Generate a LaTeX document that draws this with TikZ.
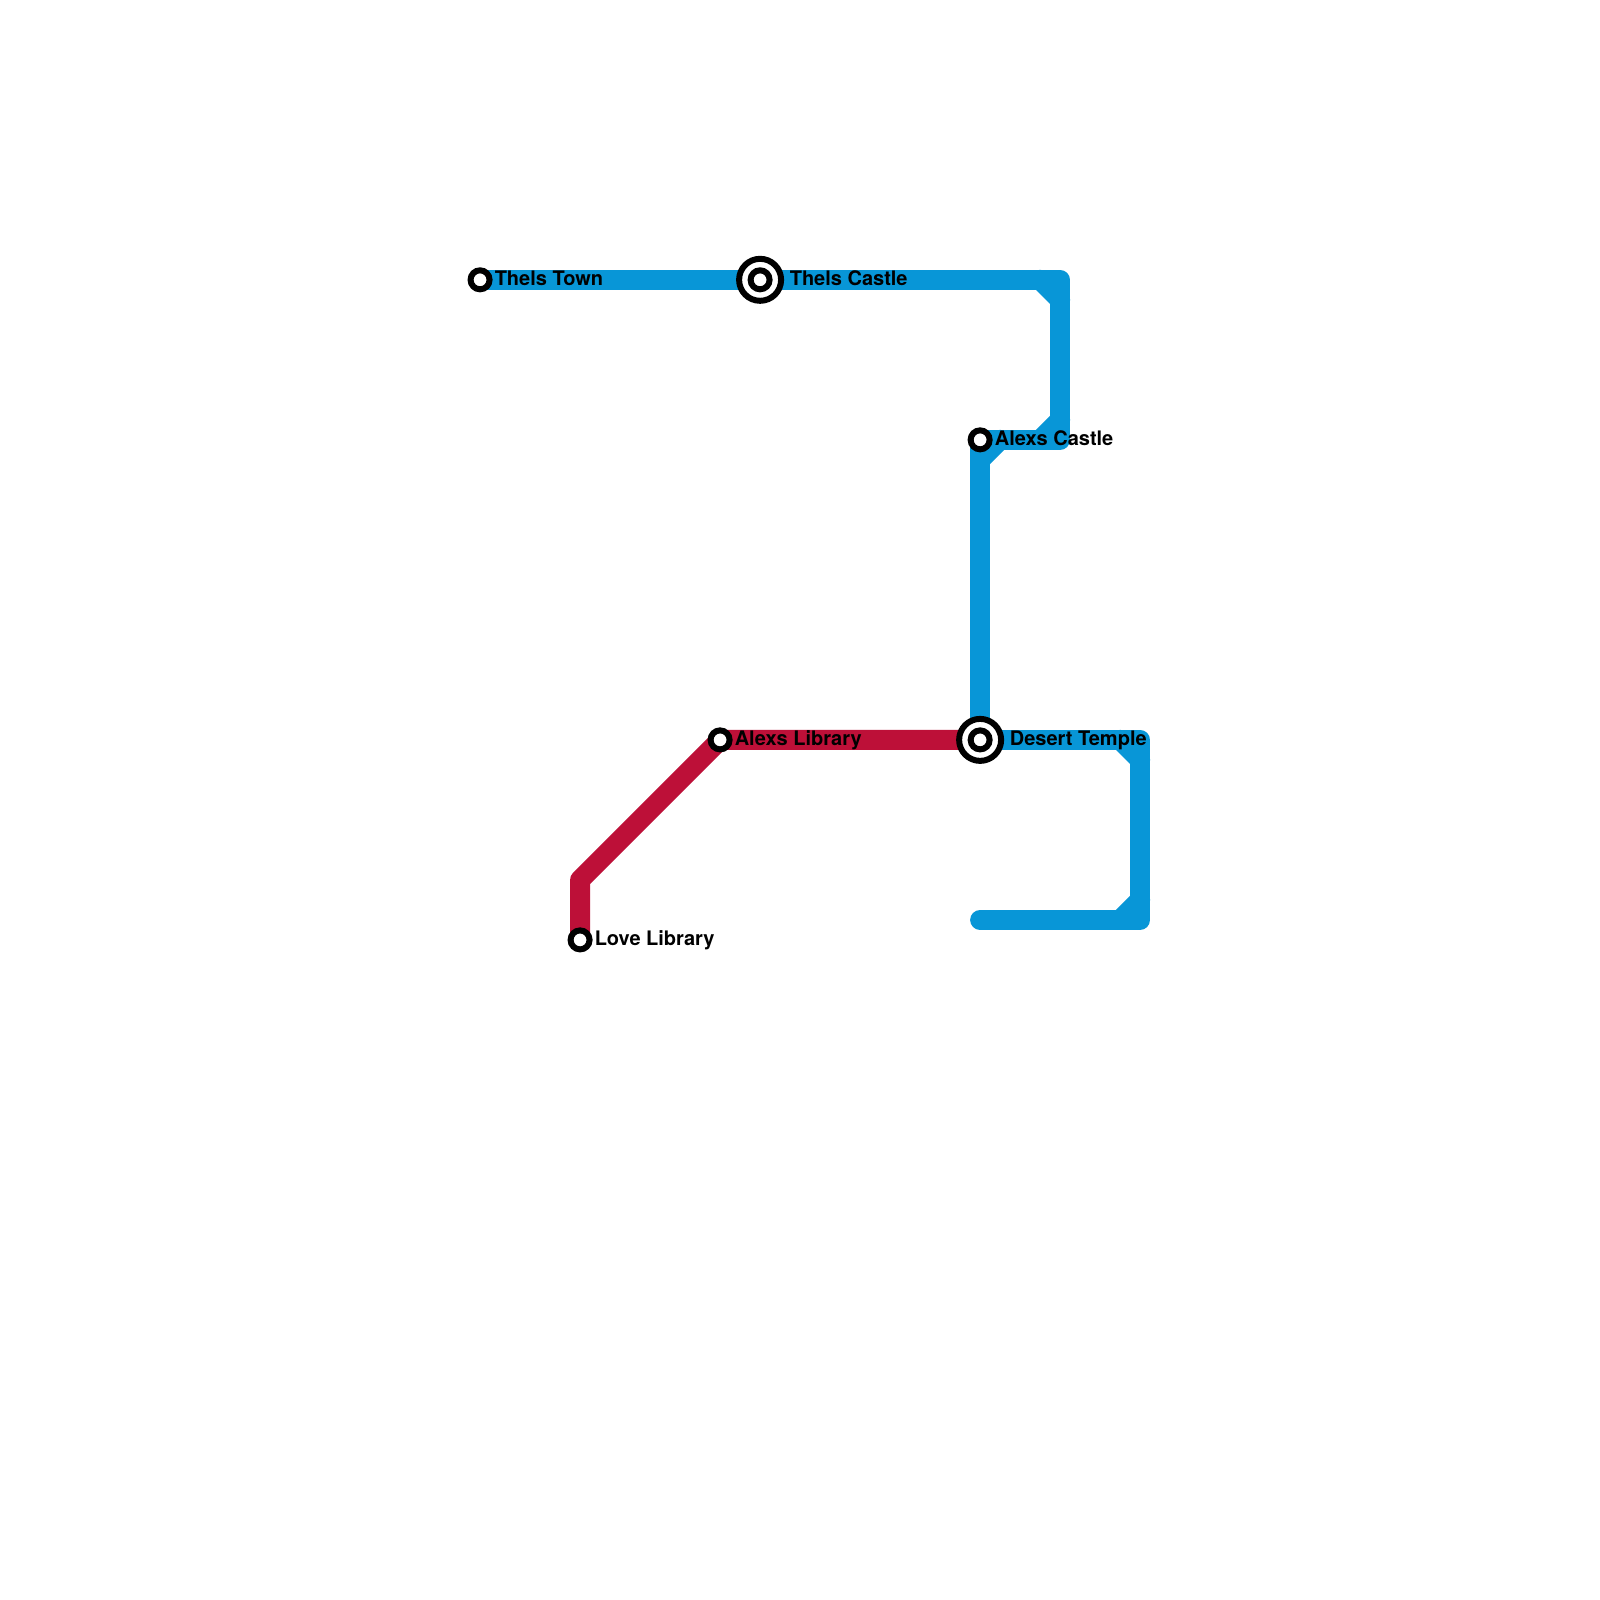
\documentclass[tikz,border=0pt]{standalone}
\usepackage{fontspec}
\setmainfont{TeX Gyre Heros}
\usepackage{tikz}
\usepackage{tkz-euclide}
\definecolor{lineblue}{HTML}{0896D7}
\definecolor{linered}{HTML}{BD1038}
\tikzset{
  trackblue/.style={color=lineblue, line width=2mm, line join=round, line cap=round},
  trackred/.style={color=linered, line width=2mm, line join=round, line cap=round},
  stop/.style={circle, draw=black, fill=white, line width=0.6mm, minimum size=1.9mm, inner sep=0pt},
  hub/.style={circle, draw=black, fill=white, line width=0.6mm, minimum size=4.2mm, inner sep=0pt},
  stoplabel/.style={anchor=base west, inner sep=0pt, font=\fontsize{5.69}{7}\selectfont\bfseries}
}

\begin{document}
\begin{tikzpicture}[scale=0.1]
            \useasboundingbox[fill=white] (0,0) rectangle (160,160);
            \tkzDefPoints{48/132/T, 76/132/C, 106/132/P, 106/116/Q, 98/116/A, 98/86/D}
            \tkzDefPoints{114/86/R, 114/68/S, 98/68/E, 72/86/L, 58/72/K, 58/66/V}
            \tkzDefPoints{104/132/Pa, 106/130/Pb, 106/118/Qa, 104/116/Qb, 100/116/Aa, 98/114/Ab}
            \tkzDefPoints{112/86/Ra, 114/84/Rb, 114/70/Sa, 112/68/Sb}
            \tkzDrawPolySeg[trackblue](T,P,Q,A,D)
            \tkzDrawPolySeg[trackblue](D,R,S,E)
            \tkzDrawSegments[trackblue](Pa,Pb Qa,Qb Aa,Ab Ra,Rb Sa,Sb)
            \tkzDrawPolySeg[trackred](D,L,K,V)
            \node[stoplabel, xshift=1.4mm, yshift=-0.6mm] (townlabel) at (T) {Thels Town};
            \node[stoplabel, xshift=2.9mm, yshift=-0.6mm] (castlelabel) at (C) {Thels Castle};
            \node[stoplabel, xshift=1.4mm, yshift=-0.6mm] (alexslabel) at (A) {Alexs Castle};
            \node[stoplabel, xshift=2.9mm, yshift=-0.6mm] (desertlabel) at (D) {Desert Temple};
            \node[stoplabel, xshift=1.4mm, yshift=-0.6mm] (librarylabel) at (L) {Alexs Library};
            \node[stoplabel, xshift=1.4mm, yshift=-0.6mm] (lovelabel) at (V) {Love Library};
            \node[stop] (town) at (T) {};
            \node[hub] (castleouter) at (C) {};
            \node[stop] (castle) at (C) {};
            \node[stop] (alexs) at (A) {};
            \node[hub] (desertouter) at (D) {};
            \node[stop] (desert) at (D) {};
            \node[stop] (library) at (L) {};
            \node[stop] (love) at (V) {};
        \end{tikzpicture}
\end{document}
